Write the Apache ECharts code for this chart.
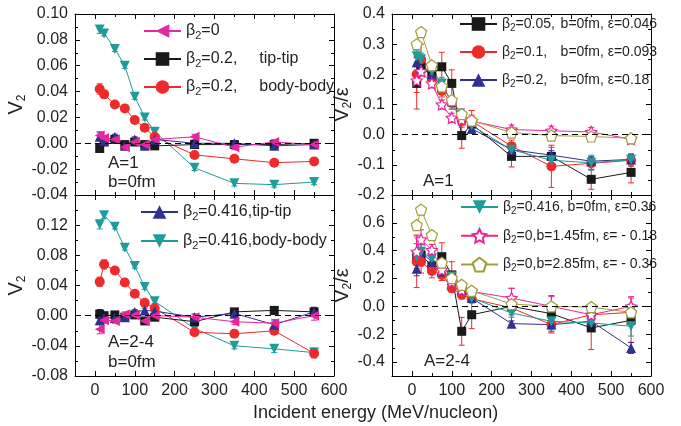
<!DOCTYPE html>
<html><head><meta charset="utf-8">
<script src="https://cdn.jsdelivr.net/npm/echarts@6/dist/echarts.min.js"></script>
<style>html,body{margin:0;padding:0;background:#fff}#c{width:681px;height:426px}</style>
</head><body><div id="c"></div>
<script>
// ---------- data ----------
const energies = [12, 23, 50, 75, 100, 125, 150, 250, 350, 450, 550];

// Top-left: V2, A=1, b=0fm
const tlBeta0     = [0.006, 0.004, 0.003, -0.003, 0.001, -0.001, 0.003, 0.005, -0.003, 0.001, -0.001];
const tlTip02     = [-0.004, 0.001, 0.003, -0.001, 0.001, -0.001, -0.002, -0.001, -0.001, -0.001, 0.000];
const tlBody02    = [0.042, 0.038, 0.030, 0.027, 0.018, 0.012, 0.005, -0.009, -0.012, -0.015, -0.014];
const tlTip416    = [0.005, 0.002, 0.005, -0.002, 0.003, -0.002, 0.003, 0.000, 0.000, -0.002, -0.001];
const tlBody416   = [0.088, 0.085, 0.073, 0.060, 0.036, 0.020, 0.009, -0.019, -0.031, -0.032, -0.030];
const tlErrSmall  = [0.003, 0.002, 0.002, 0.002, 0.002, 0.002, 0.002, 0.002, 0.002, 0.002, 0.002];
const tlErrBody02 = [0.004, 0.003, 0.002, 0.002, 0.002, 0.002, 0.002, 0.002, 0.002, 0.002, 0.002];

// Bottom-left: V2, A=2-4, b=0fm
const blBeta0     = [-0.018, -0.006, -0.007, 0.002, 0.001, -0.007, 0.000, -0.002, -0.008, -0.010, 0.000];
const blTip02     = [0.002, 0.000, 0.001, -0.002, 0.001, -0.007, -0.002, -0.008, 0.005, 0.007, 0.005];
const blBody02    = [0.045, 0.068, 0.060, 0.044, 0.029, 0.017, 0.010, -0.022, -0.024, -0.020, -0.050];
const blTip416    = [-0.006, -0.003, -0.003, -0.002, 0.005, 0.007, 0.006, -0.002, 0.003, -0.012, 0.005];
const blBody416   = [0.121, 0.133, 0.118, 0.090, 0.066, 0.038, 0.019, -0.017, -0.040, -0.044, -0.049];
const blErrSmall  = [0.006, 0.004, 0.003, 0.003, 0.003, 0.003, 0.003, 0.004, 0.004, 0.005, 0.006];
const blErrBody   = [0.006, 0.006, 0.004, 0.003, 0.003, 0.003, 0.003, 0.004, 0.005, 0.005, 0.006];

// Top-right: V2/eps, A=1
const trB005  = [0.17, 0.23, 0.20, 0.225, 0.17, -0.003, 0.035, -0.072, -0.072, -0.148, -0.125];
const trB01   = [0.20, 0.25, 0.18, 0.145, 0.105, 0.045, 0.045, -0.038, -0.105, -0.095, -0.085];
const trB02   = [0.24, 0.22, 0.20, 0.16, 0.11, 0.07, 0.02, -0.05, -0.068, -0.088, -0.082];
const trB416  = [0.26, 0.25, 0.21, 0.17, 0.105, 0.06, 0.03, -0.05, -0.085, -0.093, -0.083];
const trB145  = [0.18, 0.21, 0.17, 0.10, 0.056, 0.05, 0.045, 0.017, 0.013, 0.009, -0.015];
const trB285  = [0.30, 0.34, 0.23, 0.16, 0.115, 0.068, 0.047, 0.007, -0.003, -0.006, -0.012];
const trErrB005 = [0.085, 0.03, 0.03, 0.048, 0.045, 0.042, 0.03, 0.035, 0.03, 0.033, 0.035];
const trErrB01  = [0.06, 0.05, 0.02, 0.02, 0.02, 0.02, 0.035, 0.02, 0.07, 0.02, 0.02];
const trErrSmall = [0.015, 0.015, 0.015, 0.015, 0.015, 0.015, 0.015, 0.015, 0.015, 0.015, 0.015];
const trErrB416 = [0.02, 0.02, 0.02, 0.02, 0.02, 0.02, 0.02, 0.015, 0.02, 0.025, 0.02];

// Bottom-right: V2/eps, A=2-4
const brB005  = [0.35, 0.37, 0.29, 0.357, 0.226, -0.179, -0.06, 0.0, -0.052, -0.155, -0.10];
const brB01   = [0.32, 0.32, 0.255, 0.226, 0.131, 0.083, 0.055, -0.011, -0.131, -0.06, -0.043];
const brB02   = [0.27, 0.39, 0.32, 0.25, 0.19, 0.119, 0.06, -0.124, -0.131, -0.107, -0.298];
const brB416  = [0.357, 0.393, 0.345, 0.286, 0.214, 0.131, 0.06, -0.048, -0.107, -0.119, -0.143];
const brB145  = [0.393, 0.48, 0.405, 0.262, 0.179, 0.119, 0.107, 0.06, 0.0, -0.06, 0.0];
const brB285  = [0.584, 0.695, 0.512, 0.314, 0.203, 0.155, 0.112, 0.017, 0.0, -0.005, -0.043];
const brErrB005 = [0.1, 0.08, 0.06, 0.1, 0.095, 0.1, 0.1, 0.13, 0.13, 0.155, 0.16];
const brErrB01  = [0.185, 0.08, 0.05, 0.04, 0.03, 0.03, 0.03, 0.05, 0.06, 0.05, 0.06];
const brErrB02  = [0.05, 0.03, 0.03, 0.03, 0.02, 0.02, 0.02, 0.02, 0.03, 0.03, 0.04];
const brErrB416 = [0.05, 0.05, 0.04, 0.03, 0.03, 0.03, 0.03, 0.03, 0.07, 0.04, 0.07];
const brErrB145 = [0.12, 0.07, 0.04, 0.03, 0.03, 0.03, 0.03, 0.07, 0.07, 0.03, 0.07];

// ---------- style ----------
const FONT = '"Liberation Sans", Arial, sans-serif';
const TXT = '#231f20';
const C = {mag:'#E8259B', blk:'#1a1a1a', red:'#EE2A2A', blu:'#2E3192', cya:'#1E9C9C', oli:'#A19E35'};
const STAR = 'path://M0,-10 L2.94,-4.05 9.51,-3.09 4.76,1.55 5.88,8.09 0,5 -5.88,8.09 -4.76,1.55 -9.51,-3.09 -2.94,-4.05 Z';
const PENT = 'path://M0,-10 L9.51,-3.09 5.88,8.09 -5.88,8.09 -9.51,-3.09 Z';

function lineSeries(name, vals, g, color, symbol, extra) {
  return Object.assign({
    type: 'line', name: name, xAxisIndex: g * 2, yAxisIndex: g * 2,
    data: energies.map((e, i) => [e, vals[i]]),
    symbol: symbol, symbolSize: 10,
    lineStyle: {color: color, width: 1},
    itemStyle: {color: color},
    z: 3
  }, extra || {});
}
function hollow(color) { return {itemStyle: {color: '#fff', borderColor: color, borderWidth: 1.2}}; }
function errSeries(vals, errs, g, color) {
  return {
    type: 'custom', xAxisIndex: g * 2, yAxisIndex: g * 2, silent: true, z: 2,
    data: energies.map((e, i) => [e, vals[i], errs[i]]),
    encode: {x: 0, y: 1},
    renderItem: function (params, api) {
      const x = api.value(0), y = api.value(1), e = api.value(2);
      const hi = api.coord([x, y + e]), lo = api.coord([x, y - e]);
      const cw = 3, st = {stroke: color, lineWidth: 1};
      return {type: 'group', children: [
        {type: 'line', shape: {x1: hi[0], y1: hi[1], x2: lo[0], y2: lo[1]}, style: st},
        {type: 'line', shape: {x1: hi[0] - cw, y1: hi[1], x2: hi[0] + cw, y2: hi[1]}, style: st},
        {type: 'line', shape: {x1: lo[0] - cw, y1: lo[1], x2: lo[0] + cw, y2: lo[1]}, style: st}
      ]};
    }
  };
}
const zeroLine = {silent: true, symbol: 'none', label: {show: false},
  lineStyle: {type: [6, 4], color: '#000', width: 1}, data: [{yAxis: 0}]};

// ---------- axes ----------
const tickStyle = {color: '#000', width: 1};
function xAxes(g, showLabels) {
  const base = {type: 'value', gridIndex: g, min: -50, max: 600, splitNumber: 6,
    splitLine: {show: false},
    axisLine: {show: true, onZero: false, lineStyle: {color: '#000', width: 1}},
    axisTick: {show: true, inside: true, length: 5, lineStyle: tickStyle},
    minorTick: {show: true, splitNumber: 2, length: 3, lineStyle: tickStyle}};
  return [
    Object.assign({}, base, {position: 'bottom',
      axisLabel: {show: showLabels, showMinLabel: false, fontSize: 16, color: TXT, fontFamily: FONT, margin: 7}}),
    Object.assign({}, base, {position: 'top', axisLabel: {show: false}})
  ];
}
function yAxes(g, min, max, interval, digits, showMin, showMax, name, nameGap) {
  const base = {type: 'value', gridIndex: g, min: min, max: max,
    splitLine: {show: false},
    axisLine: {show: true, onZero: false, lineStyle: {color: '#000', width: 1}},
    axisTick: {show: true, inside: true, length: 5, lineStyle: tickStyle},
    minorTick: {show: true, splitNumber: 2, length: 3, lineStyle: tickStyle}};
  if (interval) base.interval = interval; else base.splitNumber = 6;
  return [
    Object.assign({}, base, {position: 'left',
      name: name, nameLocation: 'middle', nameGap: nameGap, nameRotate: 90,
      nameTextStyle: {fontSize: 19, color: TXT, fontFamily: FONT,
        rich: {v: {fontSize: 20, fontFamily: FONT, color: TXT}, s: {fontSize: 12, fontFamily: FONT, color: TXT, padding: [10, 0, 0, 0]}}},
      axisLabel: {showMinLabel: showMin, showMaxLabel: showMax, fontSize: 16, color: TXT, fontFamily: FONT, margin: 7,
        formatter: v => v.toFixed(digits)}}),
    Object.assign({}, base, {position: 'right', axisLabel: {show: false}})
  ];
}

// ---------- legends ----------
const legendText = {
  'β2=0': '{t|β}{s|2}{t|=0}',
  'β2=0.2, tip-tip': '{t|β}{s|2}{w|=0.2,}{t|tip-tip}',
  'β2=0.2, body-body': '{t|β}{s|2}{w|=0.2,}{t|body-body}',
  'β2=0.416,tip-tip': '{t|β}{s|2}{t|=0.416,tip-tip}',
  'β2=0.416,body-body': '{t|β}{s|2}{t|=0.416,body-body}',
  'β2=0.05, b=0fm, ε=0.046': '{u|β}{z|2}{w2|=0.05,}{u|b=0fm, ε=0.046}',
  'β2=0.1, b=0fm, ε=0.093': '{u|β}{z|2}{w2|=0.1,}{u|b=0fm, ε=0.093}',
  'β2=0.2, b=0fm, ε=0.18': '{u|β}{z|2}{w2|=0.2,}{u|b=0fm, ε=0.18}',
  'β2=0.416, b=0fm, ε=0.36': '{u|β}{z|2}{u|=0.416, b=0fm, ε=0.36}',
  'β2=0,b=1.45fm, ε= - 0.18': '{u|β}{z|2}{u|=0,b=1.45fm, ε= - 0.18}',
  'β2=0,b=2.85fm, ε= - 0.36': '{u|β}{z|2}{u|=0,b=2.85fm, ε= - 0.36}'
};
const richLegend = {
  t: {fontSize: 16, fontFamily: FONT, color: TXT},
  s: {fontSize: 11, fontFamily: FONT, color: TXT, padding: [9, 0, 0, 0]},
  w: {fontSize: 16, fontFamily: FONT, color: TXT, width: 58},
  u: {fontSize: 14, fontFamily: FONT, color: TXT},
  z: {fontSize: 10, fontFamily: FONT, color: TXT, padding: [8, 0, 0, 0]},
  w2: {fontSize: 14, fontFamily: FONT, color: TXT, width: 45}
};
function legend(data, left, top, gap) {
  return {orient: 'vertical', left: left, top: top, data: data, itemWidth: 37, itemHeight: 17,
    itemGap: gap, padding: 0, selectedMode: false,
    formatter: n => legendText[n], textStyle: {fontSize: 16, fontFamily: FONT, color: TXT, rich: richLegend}};
}

const L = {
  b0: 'β2=0', tip: 'β2=0.2, tip-tip', body: 'β2=0.2, body-body',
  tip416: 'β2=0.416,tip-tip', body416: 'β2=0.416,body-body'
};
const R = {
  a: 'β2=0.05, b=0fm, ε=0.046', b: 'β2=0.1, b=0fm, ε=0.093', c: 'β2=0.2, b=0fm, ε=0.18',
  d: 'β2=0.416, b=0fm, ε=0.36', e: 'β2=0,b=1.45fm, ε= - 0.18', f: 'β2=0,b=2.85fm, ε= - 0.36'
};

function leftPanel(g, b0, tip, body, tip416, body416, eSmall, eBody) {
  return [
    errSeries(body416, eSmall, g, C.cya),
    errSeries(body, eBody, g, C.red),
    errSeries(tip, eSmall, g, C.blk),
    errSeries(tip416, eSmall, g, C.blu),
    errSeries(b0, eSmall, g, C.mag),
    lineSeries(L.body416, body416, g, C.cya, 'triangle', {symbolRotate: 180, markLine: zeroLine}),
    lineSeries(L.body, body, g, C.red, 'circle'),
    lineSeries(L.tip, tip, g, C.blk, 'rect', {symbolSize: 9}),
    lineSeries(L.tip416, tip416, g, C.blu, 'triangle'),
    lineSeries(L.b0, b0, g, C.mag, 'triangle', {symbolRotate: 90})
  ];
}
function rightPanel(g, a, b, c, d, e, f, ea, eb, ec, ed, ee) {
  return [
    errSeries(a, ea, g, C.red),
    errSeries(b, eb, g, C.red),
    errSeries(c, ec, g, C.blu),
    errSeries(d, ed, g, C.cya),
    errSeries(e, ee, g, C.mag),
    lineSeries(R.a, a, g, C.blk, 'rect', {symbolSize: 9, markLine: zeroLine}),
    lineSeries(R.b, b, g, C.red, 'circle'),
    lineSeries(R.c, c, g, C.blu, 'triangle'),
    lineSeries(R.d, d, g, C.cya, 'triangle', {symbolRotate: 180}),
    lineSeries(R.e, e, g, C.mag, STAR, Object.assign({symbolSize: 11}, hollow(C.mag))),
    lineSeries(R.f, f, g, C.oli, PENT, Object.assign({symbolSize: 11}, hollow(C.oli)))
  ];
}

const option = {
  animation: false,
  backgroundColor: '#fff',
  title: {text: 'Incident energy (MeV/nucleon)', left: 248, top: 399,
    textStyle: {fontSize: 18, fontWeight: 'normal', color: TXT, fontFamily: FONT}},
  grid: [
    {left: 75, top: 14, width: 259, height: 181},
    {left: 75, top: 195, width: 259, height: 181},
    {left: 392, top: 14, width: 259, height: 181},
    {left: 392, top: 195, width: 259, height: 181}
  ],
  xAxis: [].concat(xAxes(0, false), xAxes(1, true), xAxes(2, false), xAxes(3, true)),
  yAxis: [].concat(
    yAxes(0, -0.04, 0.10, 0.02, 2, true, true, '{v|V}{s|2}', 46),
    yAxes(1, -0.08, 0.16, 0.04, 2, true, false, '{v|V}{s|2}', 46),
    yAxes(2, -0.2, 0.4, 0.1, 1, true, true, '{v|V}{s|2}{v|/ε}', 30),
    yAxes(3, -0.5, 0.8, null, 1, false, false, '{v|V}{s|2}{v|/ε}', 30)
  ),
  legend: [
    legend([L.b0, L.tip, L.body], 143, 23, 10),
    legend([L.tip416, L.body416], 140, 204, 11),
    legend([R.a, R.b, R.c], 459, 17, 12),
    legend([R.d, R.e, R.f], 460, 200, 12)
  ],
  graphic: [
    {type: 'text', left: 108, top: 155, style: {text: 'A=1', font: '17px ' + FONT, fill: TXT}},
    {type: 'text', left: 108, top: 174, style: {text: 'b=0fm', font: '17px ' + FONT, fill: TXT}},
    {type: 'text', left: 108, top: 334, style: {text: 'A=2-4', font: '17px ' + FONT, fill: TXT}},
    {type: 'text', left: 108, top: 354, style: {text: 'b=0fm', font: '17px ' + FONT, fill: TXT}},
    {type: 'text', left: 423, top: 173, style: {text: 'A=1', font: '17px ' + FONT, fill: TXT}},
    {type: 'text', left: 424, top: 353, style: {text: 'A=2-4', font: '17px ' + FONT, fill: TXT}}
  ],
  series: [].concat(
    leftPanel(0, tlBeta0, tlTip02, tlBody02, tlTip416, tlBody416, tlErrSmall, tlErrBody02),
    leftPanel(1, blBeta0, blTip02, blBody02, blTip416, blBody416, blErrSmall, blErrBody),
    rightPanel(2, trB005, trB01, trB02, trB416, trB145, trB285, trErrB005, trErrB01, trErrSmall, trErrB416, trErrSmall),
    rightPanel(3, brB005, brB01, brB02, brB416, brB145, brB285, brErrB005, brErrB01, brErrB02, brErrB416, brErrB145)
  )
};

const chart = echarts.init(document.getElementById('c'), null, {renderer: 'canvas'});
chart.setOption(option);
</script>
</body></html>
